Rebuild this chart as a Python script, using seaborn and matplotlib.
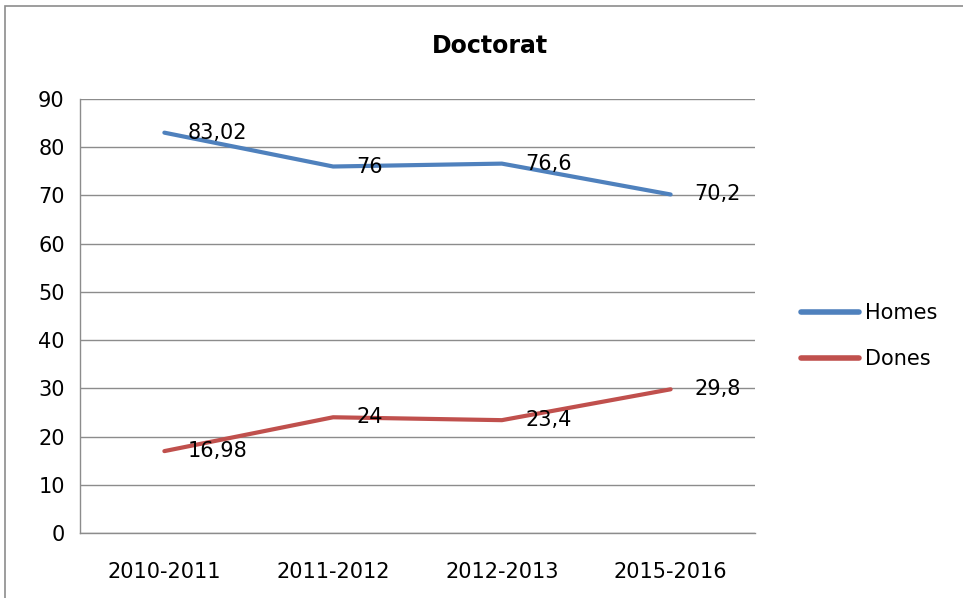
import pandas as pd
import matplotlib.pyplot as plt
import seaborn as sns
from matplotlib.patches import Rectangle

# Data
years = ['2010-2011', '2011-2012', '2012-2013', '2015-2016']
homes = [83.02, 76, 76.6, 70.2]
dones = [16.98, 24, 23.4, 29.8]

df = pd.DataFrame({'Curs': years * 2,
                   'Valor': homes + dones,
                   'Sexe': ['Homes'] * 4 + ['Dones'] * 4})

sns.set_style('white')
plt.rcParams['font.family'] = ['DejaVu Sans']
plt.rcParams['text.color'] = 'black'

fig = plt.figure(figsize=(9.63, 5.98), dpi=100)
ax = fig.add_axes([80 / 963, 1 - 533 / 598, 675 / 963, 434 / 598])

colors = {'Homes': '#4F81BD', 'Dones': '#C0504D'}
sns.lineplot(data=df, x='Curs', y='Valor', hue='Sexe', palette=colors,
             linewidth=3, ax=ax, sort=False)

# Data labels to the right of each point
for vals in (homes, dones):
    for i, v in enumerate(vals):
        txt = f'{v:g}'.replace('.', ',')
        ax.annotate(txt, (i, v), xytext=(17, 0), textcoords='offset points',
                    ha='left', va='center', fontsize=15, color='black')

ax.set_xlim(-0.5, 3.5)
ax.set_ylim(0, 90)
ax.set_yticks(range(0, 91, 10))
ax.yaxis.grid(True, color='#8c8c8c', linewidth=1)
ax.set_axisbelow(True)
for s in ['top', 'right']:
    ax.spines[s].set_visible(False)
for s in ['left', 'bottom']:
    ax.spines[s].set_color('#8c8c8c')
    ax.spines[s].set_linewidth(1)
ax.tick_params(axis='both', length=0, labelsize=15, colors='black')
ax.tick_params(axis='y', pad=11)
ax.tick_params(axis='x', pad=21)
ax.set_xlabel('')
ax.set_ylabel('')

leg = ax.legend(loc='center left', bbox_to_anchor=(782 / 963, 1 - 336 / 598),
                bbox_transform=fig.transFigure, frameon=False, fontsize=15,
                handlelength=2.8, handletextpad=0.3, labelspacing=1.25)
for line in leg.get_lines():
    line.set_linewidth(4)
for t in leg.get_texts():
    t.set_color('black')

fig.text(490 / 963, 1 - 46 / 598, 'Doctorat', ha='center', va='center',
         fontsize=17, fontweight='bold', color='black')

# Outer chart border
fig.patches.append(Rectangle((5 / 963, -0.1), 1.1, 1 - 6 / 598 + 0.1,
                             transform=fig.transFigure, fill=False,
                             edgecolor='#8c8c8c', linewidth=1.2))

fig.savefig('out.png', dpi=100)
